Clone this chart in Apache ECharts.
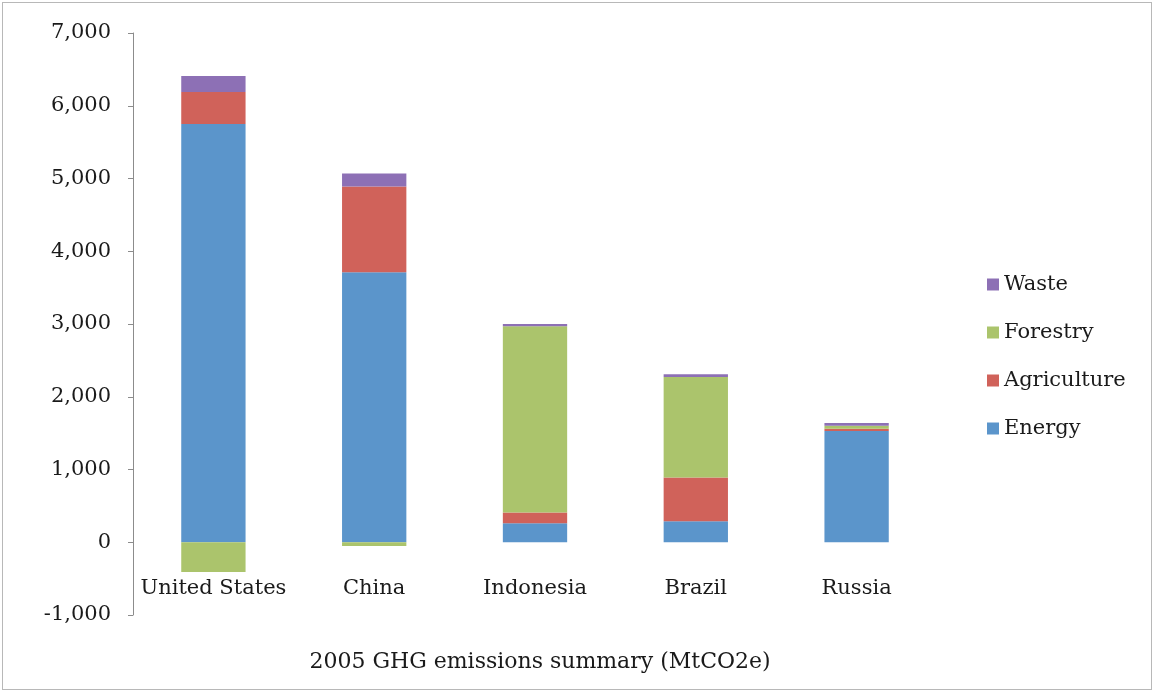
<!DOCTYPE html>
<html>
<head>
<meta charset="utf-8">
<script src="https://cdn.jsdelivr.net/npm/echarts@6/dist/echarts.min.js"></script>
<style>
  html, body { margin: 0; padding: 0; background: #fff; }
  #chart { position: absolute; left: 2px; top: 2px; width: 1150px; height: 688px; border: 1px solid #b8b8b8; box-sizing: border-box; }
</style>
</head>
<body>
<div id="chart"></div>
<script>
// 2005 GHG emissions by sector, MtCO2e
var countries = ['United States', 'China', 'Indonesia', 'Brazil', 'Russia'];
var energy = [5750, 3710, 260, 290, 1530];
var agriculture = [440, 1180, 150, 600, 30];
var forestry = [-410, -50, 2560, 1380, 40];
var waste = [220, 180, 30, 40, 40];
var yTicks = { min: -1000, max: 7000, step: 1000 };

var font = 'DejaVu Serif';

function bar(name, data, color) {
  return {
    name: name,
    type: 'bar',
    stack: 'total',
    barWidth: '40%',
    data: data,
    itemStyle: { color: color }
  };
}

var myEcharts = echarts.init(document.getElementById('chart'));
var option = {
  animation: false,
  textStyle: { fontFamily: font },
  grid: { left: 130, right: 214, top: 30, bottom: 74, outerBoundsMode: 'none', containLabel: false },
  legend: {
    orient: 'vertical',
    left: 979,
    top: 266,
    itemWidth: 12,
    itemHeight: 12,
    itemGap: 27,
    icon: 'rect',
    data: ['Waste', 'Forestry', 'Agriculture', 'Energy'],
    textStyle: { fontFamily: font, fontSize: 21, color: '#1a1a1a' }
  },
  // axis title below the chart
  graphic: [{
    type: 'text',
    x: 537,
    y: 659,
    style: {
      text: '2005 GHG emissions summary (MtCO2e)',
      font: '22px "DejaVu Serif"',
      fill: '#1a1a1a',
      textAlign: 'center',
      textVerticalAlign: 'middle'
    }
  }],
  xAxis: {
    type: 'category',
    data: countries,
    axisLine: { show: false },
    axisTick: { show: false },
    // labels pulled up to sit just under the zero line, like the original
    axisLabel: { fontFamily: font, fontSize: 21, color: '#1a1a1a', margin: -37, interval: 0 }
  },
  yAxis: {
    type: 'value',
    min: yTicks.min,
    max: yTicks.max,
    interval: yTicks.step,
    splitLine: { show: false },
    axisLine: { show: true, lineStyle: { color: '#8c8c8c', width: 1 } },
    axisTick: { show: true, length: 5, lineStyle: { color: '#8c8c8c' } },
    axisLabel: {
      fontFamily: font,
      fontSize: 21,
      color: '#1a1a1a',
      margin: 22,
      formatter: function (v) { return echarts.format.addCommas(v); }
    }
  },
  series: [
    bar('Energy', energy, '#5b95cb'),
    bar('Agriculture', agriculture, '#d0625a'),
    bar('Forestry', forestry, '#abc46c'),
    bar('Waste', waste, '#8d70b5')
  ]
};
myEcharts.setOption(option);
</script>
</body>
</html>
